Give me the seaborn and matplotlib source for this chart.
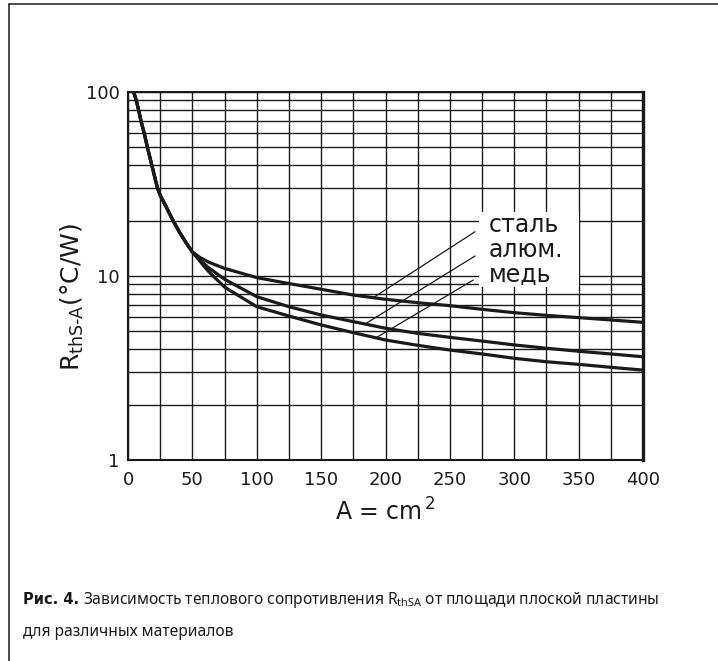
import numpy as np
import pandas as pd
import matplotlib
matplotlib.use("Agg")
import matplotlib.pyplot as plt
import seaborn as sns
from matplotlib.patches import Rectangle
from matplotlib.lines import Line2D

# ---------------- data ----------------
x_common = [4.4, 6.4, 8.2, 10.0, 12.5, 15.1, 18.5, 22.9, 25.0, 30.0, 35.0, 40.0, 45.0, 50.0]
r_common = [100, 90, 80, 70, 60, 50, 40, 30, 27.5, 23.5, 20.0, 17.3, 15.2, 13.5]

x_tail = [56, 62.5, 75, 100, 125, 150, 175, 200, 225, 250, 275, 300, 325, 350, 375, 400]
r_steel = [12.6, 11.9, 11.0, 9.8, 9.1, 8.47, 7.88, 7.47, 7.16, 6.9, 6.59, 6.32, 6.11, 5.94, 5.77, 5.6]
r_alum = [12.2, 11.1, 9.6, 7.72, 6.81, 6.14, 5.65, 5.2, 4.88, 4.64, 4.43, 4.22, 4.05, 3.9, 3.77, 3.64]
r_copper = [12.0, 10.6, 8.7, 6.81, 6.06, 5.42, 4.92, 4.49, 4.2, 3.96, 3.77, 3.57, 3.42, 3.31, 3.19, 3.08]

materials = ["сталь", "алюм.", "медь"]
label_x = 280.4
label_y = [18.9, 13.8, 10.1]
leader_start = [(269.5, 17.4), (269.5, 12.84), (268.2, 9.51)]
leader_end_x = [190.5, 184.1, 192.6]

x_ticks = [0, 50, 100, 150, 200, 250, 300, 350, 400]
y_ticks = [1, 10, 100]

# ---------------- frame ----------------
sns.set_theme(style="white")
plt.rcParams["font.family"] = ["DejaVu Sans"]
plt.rcParams["mathtext.fontset"] = "dejavusans"

series = {"сталь": r_steel, "алюм.": r_alum, "медь": r_copper}
rows = []
for m, vals in series.items():
    for x, r in zip(x_common + x_tail, r_common + vals):
        rows.append({"A": x, "R": r, "material": m})
df = pd.DataFrame(rows)

INK = "#1a1a1a"
fig = plt.figure(figsize=(7.18, 6.61), dpi=100)
fig.patch.set_facecolor("white")
ax = fig.add_axes([128 / 718, 1 - 460 / 661, 515 / 718, 368 / 661])

ax.set_yscale("log")
ax.set_xlim(0, 400)
ax.set_ylim(1, 100)

ax.set_xticks(np.arange(0, 401, 25), minor=True)
ax.set_xticks(x_ticks)
ax.set_yticks(y_ticks)
ax.set_yticklabels([str(v) for v in y_ticks])
ax.set_xticklabels([str(v) for v in x_ticks])
ax.grid(True, which="both", color=INK, linewidth=1.0)
ax.set_axisbelow(True)
ax.tick_params(which="both", length=0, labelsize=13, colors=INK)
ax.tick_params(axis="x", pad=8)
ax.tick_params(axis="y", pad=6)
for s in ax.spines.values():
    s.set_color(INK)
    s.set_linewidth(1.5)
ax.spines["right"].set_linewidth(2.4)

sns.lineplot(data=df, x="A", y="R", hue="material", units="material",
             estimator=None, palette=[INK] * 3, linewidth=2.3,
             legend=False, ax=ax, sort=True, zorder=3)
ax.set_xlabel("")
ax.set_ylabel("")

# white label box
ax.add_patch(Rectangle((272.6, 8.71), 350.3 - 272.6, 22.3 - 8.71,
                       facecolor="white", edgecolor="none", zorder=2.5))

for m, ly, (sx, sy), ex in zip(materials, label_y, leader_start, leader_end_x):
    ax.text(label_x, ly, m, fontsize=17, color=INK,
            ha="left", va="center", zorder=4)
    vals = series[m]
    ey = 10 ** np.interp(ex, x_tail, np.log10(vals))
    ax.plot([sx, ex], [sy, ey], color=INK, linewidth=0.9, zorder=3)

# axis labels
fig.text(72 / 718, 1 - 297 / 661, r"R$_{\mathregular{thS\text{-}A}}$(°C/W)",
         rotation=90, ha="center", va="center", fontsize=18, color=INK)
fig.text(385 / 718, 1 - 512 / 661, r"A = cm$^{\,\mathregular{2}}$",
         ha="center", va="center", fontsize=17, color=INK)

# outer frame lines
fig.add_artist(Line2D([9 / 718, 1.0], [1 - 4 / 661, 1 - 4 / 661],
                      transform=fig.transFigure, color=INK, linewidth=1.1))
fig.add_artist(Line2D([9 / 718, 9 / 718], [0, 1 - 4 / 661],
                      transform=fig.transFigure, color=INK, linewidth=1.1))

# caption
renderer = fig.canvas.get_renderer()
cap_y1 = 1 - 600 / 661
cap_y2 = 1 - 632 / 661
t1 = fig.text(23 / 718, cap_y1, "Рис. 4.", fontsize=10.5, fontweight="bold",
              family=["DejaVu Sans"], ha="left", va="center", color=INK)
bb = t1.get_window_extent(renderer)
fig.text((bb.x1 + 4) / 718, cap_y1,
         "Зависимость теплового сопротивления R$_{\\mathregular{thSA}}$ от площади плоской пластины",
         fontsize=11.2, family=["Noto Sans", "DejaVu Sans"], ha="left", va="center", color=INK)
fig.text(23 / 718, cap_y2, "для различных материалов", fontsize=11.2,
         family=["Noto Sans", "DejaVu Sans"], ha="left", va="center", color=INK)

fig.savefig("out.png", dpi=100)
